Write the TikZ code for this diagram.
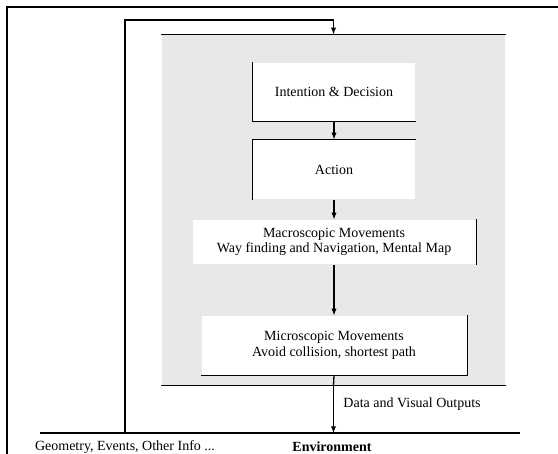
\documentclass[tikz,border=0pt]{standalone}
\usepackage{fontspec}
\setmainfont{Liberation Serif}
\usetikzlibrary{positioning}

\begin{document}
\begin{tikzpicture}[x=1pt, y=-1pt, line width=1.3pt, font=\fontsize{14}{15.5}\selectfont,
  block/.style={fill=white, align=center, inner sep=0pt},
  region/.style={fill=black!9, inner sep=0pt, minimum width=343pt, minimum height=350pt},]
     \useasboundingbox (0,0) rectangle (558,454);
     \draw[line width=2.4pt] (7,454) -- (7,7) -- (558,7);
     \node[region] (sim) at (333.5,210) {};
     \node[block, minimum width=162pt, minimum height=58pt] (intent) at (334,92) {Intention \& Decision};
     \node[block, below of=intent, node distance=77.5pt, minimum width=162pt, minimum height=59pt] (action) {Action};
     \node[block, below of=action, node distance=72.5pt, minimum width=283pt, minimum height=44pt] (macro) {Macroscopic Movements\\Way finding and Navigation, Mental Map};
     \node[block, below of=macro, node distance=103.5pt, minimum width=265pt, minimum height=59pt] (micro) {Microscopic Movements\\Avoid collision, shortest path};
     % partial borders
     \draw (sim.north west) -- (sim.north east);
     \draw (sim.south west) -- (sim.south east);
     \draw (intent.north west) -- (intent.south west) -- (intent.south east);
     \draw (action.north east) -- (action.north west) -- (action.south west);
     \draw (macro.north east) -- (macro.south east);
     \draw (micro.north east) -- (micro.south east) -- (micro.south west);
     % environment
     \coordinate (envL) at (40,433);
     \coordinate (envR) at (520,433);
     \coordinate (fb) at (125,433);
     \draw (envL) -- (envR);
     \node (geo) at (125,447) {Geometry, Events, Other Info ...};
     \node[font=\fontsize{14}{15.5}\selectfont\bfseries] (env) at (332,447) {Environment};
     % flow
     \draw[-latex] (intent) -- (action);
     \draw[-latex] (action) -- (macro);
     \draw[-latex] (macro) -- (micro);
     \draw (micro.south) -- (sim.south);
     \draw[-latex] (sim.south) -- node[pos=0.38, right=6pt] {Data and Visual Outputs} (sim.south |- envL);
     \draw[-latex] (fb) -- ++(0,-413) -| (sim.north);
   \end{tikzpicture}
\end{document}
